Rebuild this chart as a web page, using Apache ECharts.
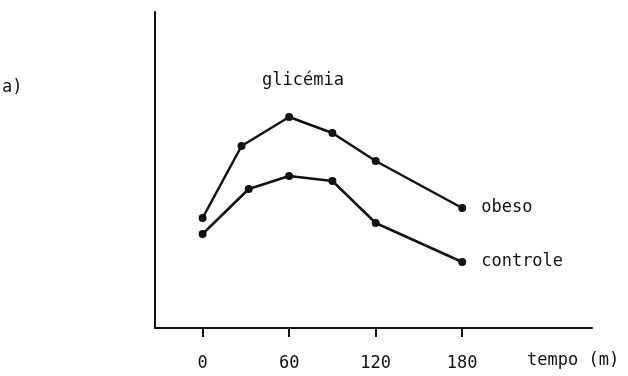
<!DOCTYPE html>
<html>
<head>
<meta charset="utf-8">
<script src="https://cdn.jsdelivr.net/npm/echarts@6/dist/echarts.min.js"></script>
<style>
  html, body { margin: 0; padding: 0; background: #fff; }
  #chart { width: 628px; height: 376px; }
</style>
</head>
<body>
<div id="chart"></div>
<script>
// tempo (min) e glicemia (unidades arbitrarias, sem escala no eixo)
var tempoObeso = [0, 27, 60, 90, 120, 180]
var obeso = [110, 182, 211, 195, 167, 120]
var tempoControle = [0, 32, 60, 90, 120, 180]
var controle = [94, 139, 152, 147, 105, 66]
var xTicks = [0, 60, 120, 180]

var font = 'DejaVu Sans Mono'

function pares(xs, ys) {
	let d = []
	for (let i in xs) d.push([xs[i], ys[i]])
	return d
}

function serie(name, xs, ys) {
	return {
		name: name,
		type: 'line',
		data: pares(xs, ys),
		symbol: 'circle',
		symbolSize: 8,
		lineStyle: { color: '#111', width: 2.5 },
		itemStyle: { color: '#111' },
		endLabel: {
			show: true,
			formatter: '{a}',
			distance: 19,
			color: '#111',
			fontFamily: font,
			fontSize: 17
		},
		silent: true,
		animation: false
	}
}

let myChart = echarts.init(document.getElementById('chart'))
let option = {
	grid: { left: 155, right: 36, top: 12, bottom: 48 },
	xAxis: {
		type: 'value',
		min: -33,
		max: 270,
		splitLine: { show: false },
		axisLine: { show: true, onZero: false, lineStyle: { color: '#111', width: 2 } },
		axisTick: { show: true, inside: false, length: 9, customValues: xTicks, lineStyle: { color: '#111', width: 2 } },
		axisLabel: { customValues: xTicks, margin: 27, color: '#111', fontFamily: font, fontSize: 17 }
	},
	yAxis: {
		type: 'value',
		min: 0,
		max: 316,
		splitLine: { show: false },
		axisLine: { show: true, onZero: false, lineStyle: { color: '#111', width: 2 } },
		axisTick: { show: false },
		axisLabel: { show: false }
	},
	graphic: [
		{ type: 'text', left: 2, top: 79, style: { text: 'a)', font: '17px ' + font, fill: '#111' } },
		{ type: 'text', left: 262, top: 72, style: { text: 'glicémia', font: '17px ' + font, fill: '#111' } },
		{ type: 'text', left: 527, top: 352, style: { text: 'tempo (m)', font: '17px ' + font, fill: '#111' } }
	],
	series: [
		serie('obeso', tempoObeso, obeso),
		serie('controle', tempoControle, controle)
	]
}
myChart.setOption(option)
</script>
</body>
</html>
